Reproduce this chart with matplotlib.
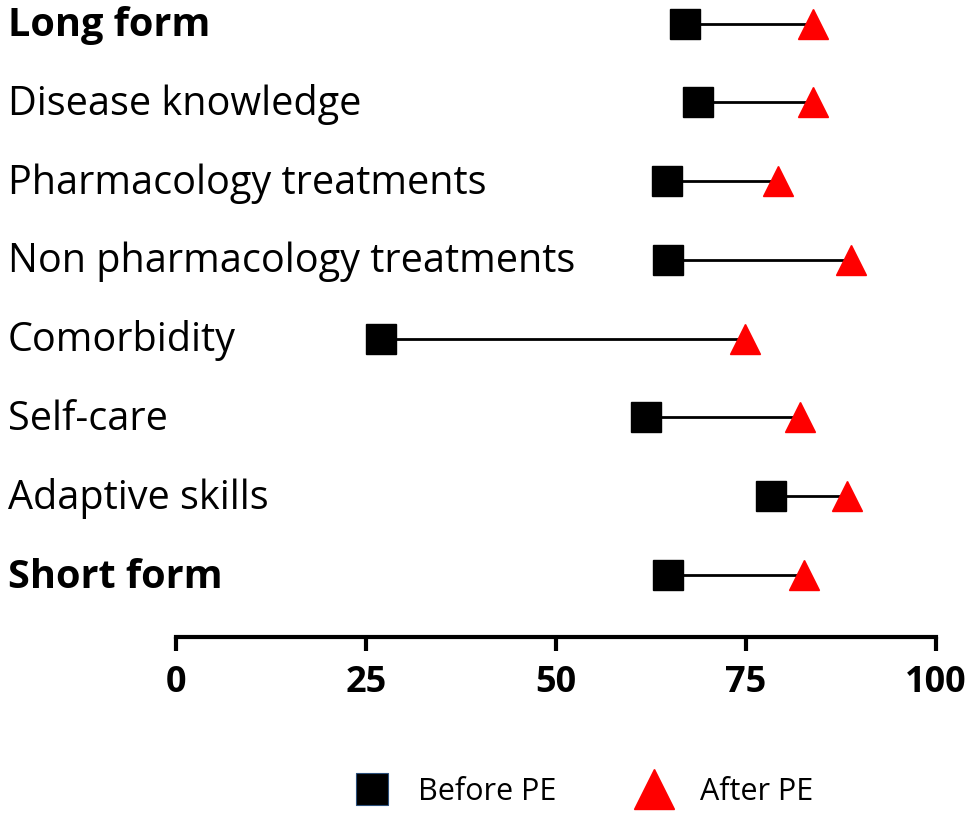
import matplotlib.pyplot as plt
from matplotlib.lines import Line2D
import matplotlib.transforms as mtransforms

# categories top to bottom
categories = ["Long form", "Disease knowledge", "Pharmacology treatments",
              "Non pharmacology treatments", "Comorbidity", "Self-care",
              "Adaptive skills", "Short form"]
bold_rows = ["Long form", "Short form"]
before_pe = [67.0, 68.7, 64.6, 64.7, 27.0, 61.8, 78.3, 64.7]
after_pe = [83.8, 83.8, 79.2, 88.8, 74.9, 82.1, 88.3, 82.6]
xticks = [0, 25, 50, 75, 100]

plt.rcParams['font.family'] = ['Open Sans', 'DejaVu Sans']

fig = plt.figure(figsize=(9.74, 8.17), dpi=100)
ax = fig.add_axes([0.1807, 0.2203, 0.780, 0.7797])

for i, (b, a) in enumerate(zip(before_pe, after_pe)):
    ax.plot([b, a], [i, i], color='black', lw=2, zorder=1)
ax.plot(before_pe, range(len(categories)), 's', color='black', ms=21, zorder=2,
        linestyle='none')
ax.plot(after_pe, range(len(categories)), '^', color='red', ms=22, zorder=3,
        linestyle='none')

ax.set_xlim(0, 100)
ax.set_ylim(7.79, -0.30)

# labels on the left, left aligned
trans = mtransforms.blended_transform_factory(fig.transFigure, ax.transData)
for i, name in enumerate(categories):
    ax.text(8 / 974, i + 0.03, name, transform=trans, ha='left', va='center',
            fontsize=28.5, fontweight='bold' if name in bold_rows else 'normal',
            clip_on=False)

for s in ['top', 'right', 'left']:
    ax.spines[s].set_visible(False)
ax.spines['bottom'].set_linewidth(3)
ax.set_yticks([])
ax.set_xticks(xticks)
ax.tick_params(axis='x', direction='out', length=10, width=3, pad=10,
               labelsize=26)
for lab in ax.get_xticklabels():
    lab.set_fontweight('bold')

handles = [Line2D([], [], marker='s', color='black', ms=23, linestyle='none',
                  markeredgecolor='#2b4f7a', markeredgewidth=0.8),
           Line2D([], [], marker='^', color='red', ms=29, linestyle='none')]
fig.legend(handles, ["Before PE", "After PE"], loc='center',
           bbox_to_anchor=(577 / 974, 1 - 792 / 817), ncol=2, frameon=False,
           fontsize=22, handletextpad=0.5, columnspacing=2.2)

fig.savefig("out.png", dpi=100)
